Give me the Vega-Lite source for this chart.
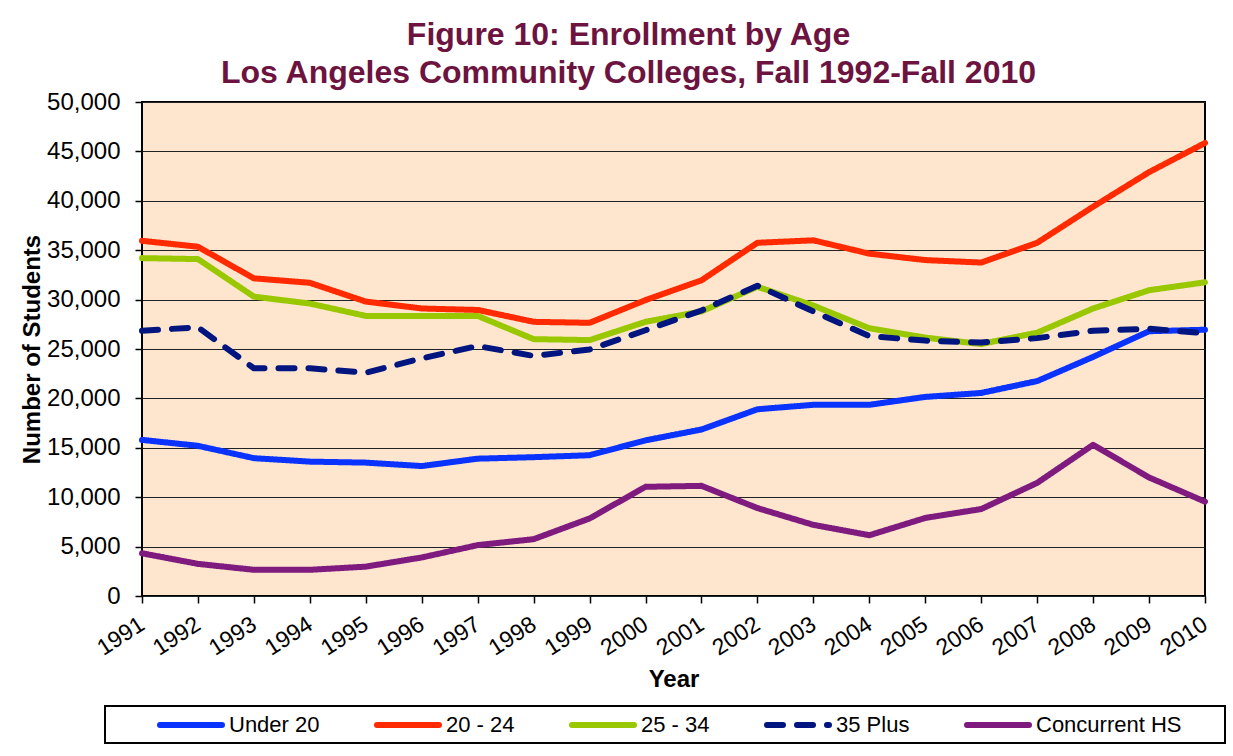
{
  "$schema": "https://vega.github.io/schema/vega-lite/v6.json",
  "width": 1063,
  "height": 494,
  "autosize": {"type": "none"},
  "padding": {"left": 142, "top": 102, "right": 28, "bottom": 160},
  "background": "#ffffff",
  "title": {
    "text": ["Figure 10: Enrollment by Age", "Los Angeles Community Colleges, Fall 1992-Fall 2010"],
    "font": "Liberation Sans",
    "fontSize": 32,
    "fontWeight": "bold",
    "color": "#6D1340",
    "anchor": "middle",
    "frame": "group",
    "dx": -45,
    "lineHeight": 38,
    "offset": 0
  },
  "data": {
    "values": [
      {"year": 1991, "group": "Under 20", "value": 15800},
      {"year": 1992, "group": "Under 20", "value": 15200},
      {"year": 1993, "group": "Under 20", "value": 13950},
      {"year": 1994, "group": "Under 20", "value": 13600},
      {"year": 1995, "group": "Under 20", "value": 13500},
      {"year": 1996, "group": "Under 20", "value": 13150},
      {"year": 1997, "group": "Under 20", "value": 13900},
      {"year": 1998, "group": "Under 20", "value": 14050},
      {"year": 1999, "group": "Under 20", "value": 14250},
      {"year": 2000, "group": "Under 20", "value": 15750},
      {"year": 2001, "group": "Under 20", "value": 16850},
      {"year": 2002, "group": "Under 20", "value": 18900},
      {"year": 2003, "group": "Under 20", "value": 19350},
      {"year": 2004, "group": "Under 20", "value": 19350},
      {"year": 2005, "group": "Under 20", "value": 20150},
      {"year": 2006, "group": "Under 20", "value": 20550},
      {"year": 2007, "group": "Under 20", "value": 21750},
      {"year": 2008, "group": "Under 20", "value": 24200},
      {"year": 2009, "group": "Under 20", "value": 26800},
      {"year": 2010, "group": "Under 20", "value": 26950},
      {"year": 1991, "group": "20 - 24", "value": 35950},
      {"year": 1992, "group": "20 - 24", "value": 35350},
      {"year": 1993, "group": "20 - 24", "value": 32150},
      {"year": 1994, "group": "20 - 24", "value": 31700},
      {"year": 1995, "group": "20 - 24", "value": 29800},
      {"year": 1996, "group": "20 - 24", "value": 29100},
      {"year": 1997, "group": "20 - 24", "value": 28950},
      {"year": 1998, "group": "20 - 24", "value": 27750},
      {"year": 1999, "group": "20 - 24", "value": 27650},
      {"year": 2000, "group": "20 - 24", "value": 29950},
      {"year": 2001, "group": "20 - 24", "value": 31950},
      {"year": 2002, "group": "20 - 24", "value": 35750},
      {"year": 2003, "group": "20 - 24", "value": 36000},
      {"year": 2004, "group": "20 - 24", "value": 34650},
      {"year": 2005, "group": "20 - 24", "value": 34000},
      {"year": 2006, "group": "20 - 24", "value": 33750},
      {"year": 2007, "group": "20 - 24", "value": 35750},
      {"year": 2008, "group": "20 - 24", "value": 39400},
      {"year": 2009, "group": "20 - 24", "value": 42900},
      {"year": 2010, "group": "20 - 24", "value": 45850},
      {"year": 1991, "group": "25 - 34", "value": 34200},
      {"year": 1992, "group": "25 - 34", "value": 34100},
      {"year": 1993, "group": "25 - 34", "value": 30300},
      {"year": 1994, "group": "25 - 34", "value": 29600},
      {"year": 1995, "group": "25 - 34", "value": 28350},
      {"year": 1996, "group": "25 - 34", "value": 28350},
      {"year": 1997, "group": "25 - 34", "value": 28350},
      {"year": 1998, "group": "25 - 34", "value": 26000},
      {"year": 1999, "group": "25 - 34", "value": 25900},
      {"year": 2000, "group": "25 - 34", "value": 27750},
      {"year": 2001, "group": "25 - 34", "value": 28800},
      {"year": 2002, "group": "25 - 34", "value": 31300},
      {"year": 2003, "group": "25 - 34", "value": 29400},
      {"year": 2004, "group": "25 - 34", "value": 27100},
      {"year": 2005, "group": "25 - 34", "value": 26150},
      {"year": 2006, "group": "25 - 34", "value": 25500},
      {"year": 2007, "group": "25 - 34", "value": 26650},
      {"year": 2008, "group": "25 - 34", "value": 29100},
      {"year": 2009, "group": "25 - 34", "value": 30950},
      {"year": 2010, "group": "25 - 34", "value": 31750},
      {"year": 1991, "group": "35 Plus", "value": 26850},
      {"year": 1992, "group": "35 Plus", "value": 27200},
      {"year": 1993, "group": "35 Plus", "value": 23050},
      {"year": 1994, "group": "35 Plus", "value": 23050},
      {"year": 1995, "group": "35 Plus", "value": 22600},
      {"year": 1996, "group": "35 Plus", "value": 24050},
      {"year": 1997, "group": "35 Plus", "value": 25300},
      {"year": 1998, "group": "35 Plus", "value": 24300},
      {"year": 1999, "group": "35 Plus", "value": 24950},
      {"year": 2000, "group": "35 Plus", "value": 26900},
      {"year": 2001, "group": "35 Plus", "value": 28900},
      {"year": 2002, "group": "35 Plus", "value": 31400},
      {"year": 2003, "group": "35 Plus", "value": 28800},
      {"year": 2004, "group": "35 Plus", "value": 26300},
      {"year": 2005, "group": "35 Plus", "value": 25850},
      {"year": 2006, "group": "35 Plus", "value": 25650},
      {"year": 2007, "group": "35 Plus", "value": 26100},
      {"year": 2008, "group": "35 Plus", "value": 26850},
      {"year": 2009, "group": "35 Plus", "value": 27050},
      {"year": 2010, "group": "35 Plus", "value": 26600},
      {"year": 1991, "group": "Concurrent HS", "value": 4320},
      {"year": 1992, "group": "Concurrent HS", "value": 3250},
      {"year": 1993, "group": "Concurrent HS", "value": 2650},
      {"year": 1994, "group": "Concurrent HS", "value": 2650},
      {"year": 1995, "group": "Concurrent HS", "value": 2970},
      {"year": 1996, "group": "Concurrent HS", "value": 3900},
      {"year": 1997, "group": "Concurrent HS", "value": 5150},
      {"year": 1998, "group": "Concurrent HS", "value": 5750},
      {"year": 1999, "group": "Concurrent HS", "value": 7850},
      {"year": 2000, "group": "Concurrent HS", "value": 11050},
      {"year": 2001, "group": "Concurrent HS", "value": 11150},
      {"year": 2002, "group": "Concurrent HS", "value": 8900},
      {"year": 2003, "group": "Concurrent HS", "value": 7200},
      {"year": 2004, "group": "Concurrent HS", "value": 6150},
      {"year": 2005, "group": "Concurrent HS", "value": 7900},
      {"year": 2006, "group": "Concurrent HS", "value": 8800},
      {"year": 2007, "group": "Concurrent HS", "value": 11450},
      {"year": 2008, "group": "Concurrent HS", "value": 15300},
      {"year": 2009, "group": "Concurrent HS", "value": 12000},
      {"year": 2010, "group": "Concurrent HS", "value": 9550}
    ]
  },
  "mark": {"type": "line", "strokeWidth": 6, "strokeCap": "round", "strokeJoin": "round"},
  "encoding": {
    "x": {
      "field": "year",
      "type": "quantitative",
      "scale": {"domain": [1991, 2010], "nice": false, "zero": false},
      "axis": {
        "title": "Year",
        "values": [1991,1992,1993,1994,1995,1996,1997,1998,1999,2000,2001,2002,2003,2004,2005,2006,2007,2008,2009,2010],
        "format": "d",
        "labelAngle": -33,
        "labelAlign": "right",
        "labelBaseline": "middle",
        "labelFontSize": 23,
        "labelPadding": 19,
        "grid": false,
        "titlePadding": 8
      }
    },
    "y": {
      "field": "value",
      "type": "quantitative",
      "scale": {"domain": [0, 50000], "nice": false},
      "axis": {
        "title": "Number of Students",
        "values": [0,5000,10000,15000,20000,25000,30000,35000,40000,45000,50000],
        "format": ",.0f",
        "labelPadding": 15,
        "titlePadding": 2,
        "grid": true,
        "gridColor": "#222222",
        "gridWidth": 1,
        "gridOpacity": 1
      }
    },
    "color": {
      "field": "group",
      "type": "nominal",
      "scale": {
        "domain": ["Under 20", "20 - 24", "25 - 34", "35 Plus", "Concurrent HS"],
        "range": ["#0A33FF", "#FF2A00", "#99C800", "#00157F", "#7F1A7F"]
      },
      "legend": {
        "title": " ",
        "titleOrient": "right",
        "titlePadding": 37,
        "titleFontSize": 22,
        "orient": "none",
        "direction": "horizontal",
        "legendX": -37,
        "legendY": 604,
        "symbolType": "M0,0H6.2",
        "symbolSize": 400,
        "symbolStrokeWidth": 6,
        "symbolOffset": 36,
        "labelFont": "Liberation Sans",
        "labelFontSize": 22,
        "labelColor": "#000000",
        "labelOffset": 56,
        "columnPadding": 8,
        "padding": 6,
        "strokeColor": "#000000",
        "fillColor": "#ffffff",
        "encode": {"symbols": {"update": {"strokeCap": {"value": "round"}}}}
      }
    },
    "strokeDash": {
      "field": "group",
      "type": "nominal",
      "scale": {
        "domain": ["Under 20", "20 - 24", "25 - 34", "35 Plus", "Concurrent HS"],
        "range": [[1, 0], [1, 0], [1, 0], [16, 14], [1, 0]]
      },
      "legend": {
        "title": " ",
        "titleOrient": "right",
        "titlePadding": 37,
        "titleFontSize": 22,
        "orient": "none",
        "direction": "horizontal",
        "legendX": -37,
        "legendY": 604,
        "symbolType": "M0,0H6.2",
        "symbolSize": 400,
        "symbolStrokeWidth": 6,
        "symbolOffset": 36,
        "labelFont": "Liberation Sans",
        "labelFontSize": 22,
        "labelColor": "#000000",
        "labelOffset": 56,
        "columnPadding": 8,
        "padding": 6,
        "strokeColor": "#000000",
        "fillColor": "#ffffff",
        "encode": {"symbols": {"update": {"strokeCap": {"value": "round"}}}}
      }
    }
  },
  "config": {
    "view": {"fill": "#FEE6CE", "stroke": "#000000", "strokeWidth": 2},
    "axis": {
      "labelFont": "Liberation Sans",
      "labelFontSize": 24,
      "labelColor": "#000000",
      "titleFont": "Liberation Sans",
      "titleFontSize": 24,
      "titleFontWeight": "bold",
      "titleColor": "#000000",
      "domain": false,
      "tickColor": "#000000",
      "tickSize": 7,
      "tickWidth": 1.5,
      "labelOverlap": false,
      "labelFlush": false
    },
    "legend": {"strokeWidth": 2}
  }
}
